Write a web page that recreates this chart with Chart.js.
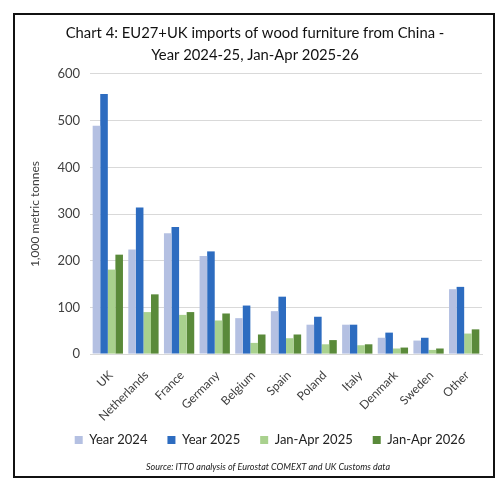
<!DOCTYPE html>
<html>
<head>
<meta charset="utf-8">
<script src="https://cdn.jsdelivr.net/npm/chart.js@4.4.1/dist/chart.umd.min.js"></script>
<style>
html,body{margin:0;padding:0;background:#fff;}
#box{position:absolute;left:13px;top:13px;width:478px;height:461px;border:2px solid #111;}
canvas{display:block;}
</style>
</head>
<body>
<div id="box"><canvas id="c" width="478" height="461"></canvas></div>
<script>
const categories = ["UK","Netherlands","France","Germany","Belgium","Spain","Poland","Italy","Denmark","Sweden","Other"];
const year2024 = [489,224,259,210,77,92,63,63,35,29,139];
const year2025 = [557,314,272,220,104,123,80,63,46,35,144];
const janApr2025 = [181,90,84,72,24,34,21,19,12,9,44];
const janApr2026 = [213,128,90,87,42,42,30,21,14,12,53];
const yTicks = [0,100,200,300,400,500,600];
const titleLines = ['Chart 4: EU27+UK imports of wood furniture from China -','Year 2024-25, Jan-Apr 2025-26'];
const sourceText = 'Source: ITTO analysis of Eurostat COMEXT and UK Customs data';

const FONT = "Lato, 'Open Sans', sans-serif";

const shiftBoxes = {
  id: 'shiftBoxes',
  afterLayout(chart) {
    const lg = chart.legend;
    if (lg) { lg.left += 15; lg.right += 15; }
    const sub = chart.boxes.find(b => b !== lg && b !== chart.titleBlock && b.options && b.options.text === sourceText);
    if (sub) { sub.left += 13; sub.right += 13; }
    // let rotated category labels extend below the pinned axis box without clipping
    if (chart.scales.x) { chart.scales.x.bottom += 30; }
  }
};

new Chart(document.getElementById('c'), {
  type: 'bar',
  data: {
    labels: categories,
    datasets: [
      {label:'Year 2024', data: year2024, backgroundColor:'#b4c0e2'},
      {label:'Year 2025', data: year2025, backgroundColor:'#2d6cc0'},
      {label:'Jan-Apr 2025', data: janApr2025, backgroundColor:'#a9d18e'},
      {label:'Jan-Apr 2026', data: janApr2026, backgroundColor:'#5a8a3a'}
    ]
  },
  plugins: [shiftBoxes],
  options: {
    responsive: false,
    animation: false,
    layout: {padding: {left: 13, right: 11, top: 0, bottom: 0}},
    datasets: {bar: {categoryPercentage: 0.85, barPercentage: 1.0}},
    plugins: {
      title: {
        display: true,
        text: titleLines,
        font: {family: FONT, size: 14.8, weight: 'normal', lineHeight: 1.486},
        color: '#111',
        padding: {top: 7.5, bottom: 7.5}
      },
      legend: {
        position: 'bottom',
        labels: {
          boxWidth: 8, boxHeight: 8, padding: 20,
          font: {family: FONT, size: 13},
          color: '#222'
        }
      },
      subtitle: {
        display: true,
        position: 'bottom',
        text: sourceText,
        font: {family: FONT, size: 9, style: 'italic', lineHeight: 1.2},
        color: '#222',
        padding: {top: 5, bottom: 3.6}
      },
      tooltip: {enabled: false}
    },
    scales: {
      y: {
        min: 0, max: 600,
        afterBuildTicks: (s) => { s.ticks = yTicks.map(v => ({value: v})); },
        afterFit: (s) => { s.width = 62; },
        grid: {color: '#d9d9d9', drawTicks: false},
        border: {display: false},
        ticks: {font: {family: FONT, size: 13}, color: '#404040', padding: 10},
        title: {display: true, text: '1,000 metric tonnes', font: {family: FONT, size: 12}, color: '#404040', padding: {top: 0, bottom: 0}}
      },
      x: {
        grid: {display: false},
        border: {display: true, color: '#d9d9d9'},
        afterFit: (s) => { s.height = 59.5; },
        ticks: {font: {family: FONT, size: 12}, color: '#404040', minRotation: 45, maxRotation: 45, padding: 6, labelOffset: 3}
      }
    }
  }
});
</script>
</body>
</html>
